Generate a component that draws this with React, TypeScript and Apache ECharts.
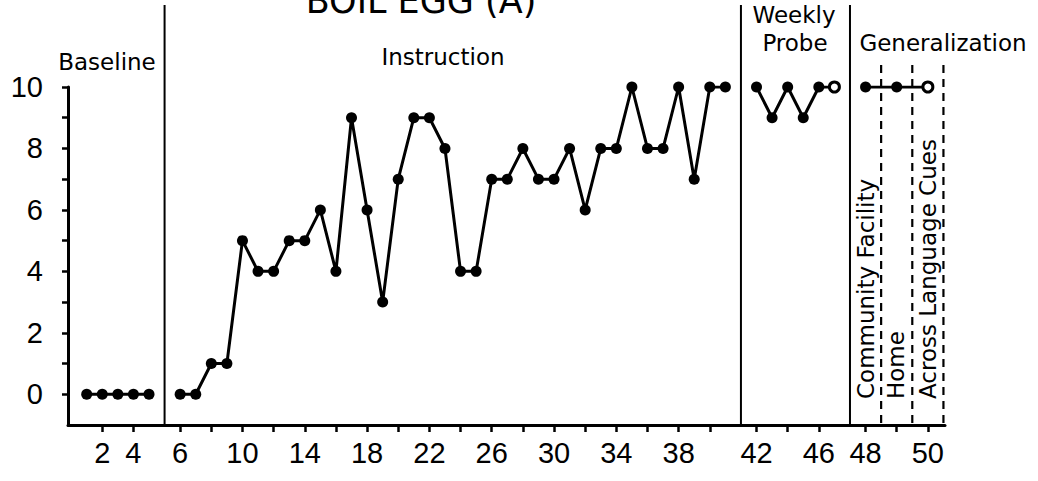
import React, { useEffect, useRef } from "react";
import * as echarts from "echarts";

// ---- data (session number -> correct steps) ----
const baselineSessions = [1, 2, 3, 4, 5];
const baselineScores = [0, 0, 0, 0, 0];

const instructionSessions = [
  6, 7, 8, 9, 10, 11, 12, 13, 14, 15, 16, 17, 18, 19, 20, 21, 22, 23, 24, 25,
  26, 27, 28, 29, 30, 31, 32, 33, 34, 35, 36, 37, 38, 39, 40, 41,
];
const instructionScores = [
  0, 0, 1, 1, 5, 4, 4, 5, 5, 6, 4, 9, 6, 3, 7, 9, 9, 8, 4, 4,
  7, 7, 8, 7, 7, 8, 6, 8, 8, 10, 8, 8, 10, 7, 10, 10,
];

const probeSessions = [42, 43, 44, 45, 46, 47];
const probeScores = [10, 9, 10, 9, 10, 10];

const generalizationSessions = [48, 49, 50];
const generalizationScores = [10, 10, 10];

const tickSessions = [
  2, 4, 6, 8, 10, 12, 14, 16, 18, 20, 22, 24, 26, 28, 30, 32, 34, 36, 38, 40,
  42, 44, 46, 48, 49, 50,
];
const labelSessions = [2, 4, 6, 10, 14, 18, 22, 26, 30, 34, 38, 42, 46, 48, 50];
const yTickValues = [0, 1, 2, 3, 4, 5, 6, 7, 8, 9, 10];
const yLabelValues = [0, 2, 4, 6, 8, 10];

const titleText = "BOIL EGG (A)";
const generalizationSettings = ["Community Facility", "Home", "Across Language Cues"];

// ---- broken session axis: each phase starts one slot after the previous phase line ----
const phaseScale = [
  { first: 1, slotStart: 1, step: 1 },
  { first: 6, slotStart: 7, step: 1 },
  { first: 42, slotStart: 44, step: 1 },
  { first: 48, slotStart: 51, step: 2 },
];

function slotOf(session: number): number {
  let p = phaseScale[0];
  for (const ph of phaseScale) if (session >= ph.first) p = ph;
  return p.slotStart + (session - p.first) * p.step;
}

const FONT = "DejaVu Sans";
const NUMFONT = "Liberation Sans";
const INK = "#000";

export default function App() {
  const ref = useRef<HTMLDivElement>(null);

  useEffect(() => {
    document.body.style.margin = "0";
    if (!ref.current) return;
    const chart = echarts.init(ref.current, undefined, { renderer: "svg" });

    const slotToSession = new Map<number, number>();
    tickSessions.forEach((s) => slotToSession.set(slotOf(s), s));

    // phase boundaries: solid between phases, dashed after each generalization setting
    const phaseBounds = [
      [slotOf(baselineSessions[baselineSessions.length - 1]) + 1, 0],
      [slotOf(instructionSessions[instructionSessions.length - 1]) + 1, 0],
      [slotOf(probeSessions[probeSessions.length - 1]) + 1, 0],
      ...generalizationSessions.map((s) => [slotOf(s) + 1, 1]),
    ];

    const lineSeries = (sessions: number[], scores: number[], openLast: boolean) => ({
      type: "line",
      data: sessions.map((s, i) => {
        const last = openLast && i === sessions.length - 1;
        return last
          ? {
              value: [slotOf(s), scores[i]],
              itemStyle: { color: "#fff", borderColor: INK, borderWidth: 3 },
              symbolSize: 10,
            }
          : [slotOf(s), scores[i]];
      }),
      symbol: "circle",
      symbolSize: 11,
      showSymbol: true,
      lineStyle: { color: INK, width: 3 },
      itemStyle: { color: INK },
      z: 5,
    });

    const labelStyle = (text: string, size = 23) => ({
      text,
      fontFamily: FONT,
      fontSize: size,
      fill: INK,
      align: "center",
      verticalAlign: "middle",
    });

    chart.setOption({
      animation: false,
      backgroundColor: "#fff",
      grid: { left: 68, right: 93, top: 87, bottom: 56, containLabel: false },
      xAxis: {
        type: "value",
        min: -0.2,
        max: 56.1,
        splitLine: { show: false },
        axisLine: { onZero: false, lineStyle: { color: INK, width: 3 } },
        axisTick: {
          show: true,
          length: 7,
          lineStyle: { color: INK, width: 2.5 },
          customValues: tickSessions.map(slotOf),
        },
        axisLabel: {
          show: true,
          color: INK,
          fontFamily: NUMFONT,
          fontSize: 29,
          margin: 13,
          customValues: labelSessions.map(slotOf),
          formatter: (v: number) => {
            const s = slotToSession.get(Math.round(v));
            return s === undefined ? "" : String(s);
          },
        },
      },
      yAxis: {
        type: "value",
        min: -1,
        max: 10,
        interval: 1,
        splitLine: { show: false },
        axisLine: { show: true, onZero: false, lineStyle: { color: INK, width: 3 } },
        axisTick: {
          show: true,
          length: 6,
          lineStyle: { color: INK, width: 2.5 },
          customValues: yTickValues,
        },
        axisLabel: {
          show: true,
          color: INK,
          fontFamily: NUMFONT,
          fontSize: 29,
          margin: 25,
          customValues: yLabelValues,
        },
      },
      series: [
        lineSeries(baselineSessions, baselineScores, false),
        lineSeries(instructionSessions, instructionScores, false),
        lineSeries(probeSessions, probeScores, true),
        lineSeries(generalizationSessions, generalizationScores, true),
        {
          type: "custom",
          clip: false,
          silent: true,
          z: 3,
          data: phaseBounds,
          renderItem: (_params: any, api: any) => {
            const slot = api.value(0);
            const dashed = api.value(1) === 1;
            const base = api.coord([slot, -1]);
            const top10 = api.coord([slot, 10]);
            const top = dashed ? top10[1] - 22 : top10[1] - 82;
            return {
              type: "line",
              shape: { x1: base[0], y1: top, x2: base[0], y2: base[1] },
              style: {
                stroke: INK,
                lineWidth: dashed ? 2.2 : 2,
                lineDash: dashed ? [8, 6] : null,
              },
            };
          },
        },
      ],
      graphic: [
        { type: "text", x: 421, y: 1, style: labelStyle(titleText, 35) },
        { type: "text", x: 107, y: 62, style: labelStyle("Baseline") },
        { type: "text", x: 443, y: 57, style: labelStyle("Instruction") },
        { type: "text", x: 794, y: 15, style: labelStyle("Weekly") },
        { type: "text", x: 795, y: 43, style: labelStyle("Probe") },
        { type: "text", x: 943, y: 43, style: labelStyle("Generalization") },
        {
          type: "text",
          x: 866,
          y: 399,
          rotation: Math.PI / 2,
          style: { ...labelStyle(generalizationSettings[0]), align: "left" },
        },
        {
          type: "text",
          x: 896,
          y: 399,
          rotation: Math.PI / 2,
          style: { ...labelStyle(generalizationSettings[1]), align: "left" },
        },
        {
          type: "text",
          x: 928,
          y: 399,
          rotation: Math.PI / 2,
          style: { ...labelStyle(generalizationSettings[2]), align: "left" },
        },
      ],
    });

    return () => chart.dispose();
  }, []);

  return <div ref={ref} style={{ width: 1038, height: 481 }} />;
}
